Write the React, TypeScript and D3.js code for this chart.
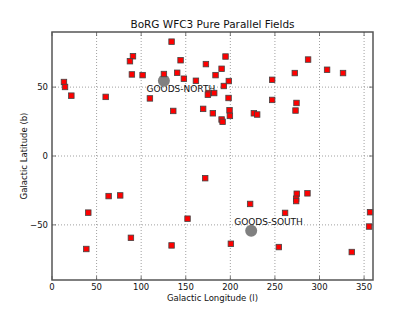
import React, { useEffect, useRef } from "react";
import * as d3 from "d3";

// BoRG fields: galactic longitude (l) and latitude (b)
const fieldL = [
  134.1, 90.8, 87.4, 89.6, 101.6, 13.4, 14.6, 21.7, 60.2, 109.8, 125.5, 140.4, 136.0,
  144.2, 147.9, 172.6, 194.6, 190.2, 183.4, 161.4, 198.3, 192.7, 175.9, 181.9, 174.8,
  198.0, 169.5, 180.4, 199.1, 199.5, 190.2, 191.3, 226.4, 230.1, 246.9, 246.9, 272.3,
  274.2, 273.1, 287.2, 308.5, 326.4,
  171.8, 63.5, 76.5, 40.7, 152.0, 88.5, 38.5, 134.1, 222.2, 274.5, 273.8, 273.8, 286.5,
  261.4, 356.7, 355.6, 200.6, 254.4, 336.2,
];
const fieldB = [
  83.0, 72.4, 68.8, 59.2, 58.7, 53.7, 50.1, 43.8, 42.9, 41.8, 59.5, 60.4, 32.7,
  69.5, 56.1, 66.7, 72.2, 63.3, 58.7, 54.6, 54.4, 50.8, 45.7, 45.7, 44.5,
  42.1, 34.2, 31.0, 33.2, 29.1, 26.5, 24.8, 31.0, 30.1, 55.3, 40.7, 60.2,
  38.5, 33.0, 70.0, 62.6, 60.2,
  -16.1, -29.1, -28.6, -41.1, -45.5, -59.4, -67.5, -64.9, -34.8, -27.4, -31.0, -32.7, -27.1,
  -41.3, -40.8, -51.2, -63.7, -66.1, -69.7,
];

const goodsNames = ["GOODS-NORTH", "GOODS-SOUTH"];
const goodsL = [125.5, 223.4];
const goodsB = [54.6, -54.3];
const goodsLabelL = [106, 204.3];
const goodsLabelB = [46.5, -50];

const xTicks = [0, 50, 100, 150, 200, 250, 300, 350];
const yTicks = [-50, 0, 50];

function App() {
  const ref = useRef<SVGSVGElement>(null);

  useEffect(() => {
    const W = 415, H = 312;
    const margin = { top: 32, right: 42, bottom: 32, left: 52 };
    const w = W - margin.left - margin.right;
    const h = H - margin.top - margin.bottom;
    const font = "DejaVu Sans, sans-serif";

    const svg = d3.select(ref.current).attr("width", W).attr("height", H);
    svg.selectAll("*").remove();

    const x = d3.scaleLinear().domain([0, 360]).range([margin.left, margin.left + w]);
    const y = d3.scaleLinear().domain([-90, 90]).range([margin.top + h, margin.top]);

    svg.append("rect").attr("width", W).attr("height", H).attr("fill", "white");

    // grid
    const grid = svg.append("g").attr("stroke", "#888").attr("stroke-width", 0.8).attr("stroke-dasharray", "1,2");
    xTicks.filter((t) => t > 0).forEach((t) => {
      grid.append("line").attr("x1", x(t)).attr("x2", x(t)).attr("y1", margin.top).attr("y2", margin.top + h);
    });
    yTicks.forEach((t) => {
      grid.append("line").attr("x1", margin.left).attr("x2", margin.left + w).attr("y1", y(t)).attr("y2", y(t));
    });

    // tick marks inside frame
    const ticks = svg.append("g").attr("stroke", "#555").attr("stroke-width", 0.8);
    xTicks.forEach((t) => {
      ticks.append("line").attr("x1", x(t)).attr("x2", x(t)).attr("y1", margin.top + h).attr("y2", margin.top + h - 4);
      ticks.append("line").attr("x1", x(t)).attr("x2", x(t)).attr("y1", margin.top).attr("y2", margin.top + 4);
    });
    yTicks.forEach((t) => {
      ticks.append("line").attr("x1", margin.left).attr("x2", margin.left + 4).attr("y1", y(t)).attr("y2", y(t));
      ticks.append("line").attr("x1", margin.left + w).attr("x2", margin.left + w - 4).attr("y1", y(t)).attr("y2", y(t));
    });

    // GOODS labels, then circles on top
    svg.append("g")
      .selectAll("text")
      .data(goodsNames)
      .join("text")
      .attr("x", (d, i) => x(goodsLabelL[i]))
      .attr("y", (d, i) => y(goodsLabelB[i]))
      .attr("font-family", font)
      .attr("font-size", 9)
      .attr("fill", "#111")
      .text((d) => d);

    svg.append("g")
      .selectAll("circle")
      .data(goodsL)
      .join("circle")
      .attr("cx", (d) => x(d))
      .attr("cy", (d, i) => y(goodsB[i]))
      .attr("r", 6)
      .attr("fill", "#808080");

    // fields
    const s = 5.5;
    svg.append("g")
      .selectAll("rect")
      .data(fieldL)
      .join("rect")
      .attr("x", (d) => x(d) - s / 2)
      .attr("y", (d, i) => y(fieldB[i]) - s / 2)
      .attr("width", s)
      .attr("height", s)
      .attr("fill", "#ff0000")
      .attr("stroke", "#444")
      .attr("stroke-width", 0.8);

    // frame
    svg.append("rect")
      .attr("x", margin.left)
      .attr("y", margin.top)
      .attr("width", w)
      .attr("height", h)
      .attr("fill", "none")
      .attr("stroke", "#555")
      .attr("stroke-width", 1.5);

    // tick labels
    svg.append("g")
      .selectAll("text")
      .data(xTicks)
      .join("text")
      .attr("x", (d) => x(d))
      .attr("y", margin.top + h + 10)
      .attr("text-anchor", "middle")
      .attr("font-family", font)
      .attr("font-size", 8.5)
      .attr("fill", "#111")
      .text((d) => d);

    svg.append("g")
      .selectAll("text")
      .data(yTicks)
      .join("text")
      .attr("x", margin.left - 4)
      .attr("y", (d) => y(d) + 3)
      .attr("text-anchor", "end")
      .attr("font-family", font)
      .attr("font-size", 8.5)
      .attr("fill", "#111")
      .text((d) => (d < 0 ? "\u2212" + Math.abs(d) : d));

    // labels
    svg.append("text")
      .attr("x", margin.left + w / 2)
      .attr("y", 301)
      .attr("text-anchor", "middle")
      .attr("font-family", font)
      .attr("font-size", 8.5)
      .attr("fill", "#111")
      .text("Galactic Longitude (l)");

    svg.append("text")
      .attr("transform", `translate(27, ${margin.top + h / 2}) rotate(-90)`)
      .attr("text-anchor", "middle")
      .attr("font-family", font)
      .attr("font-size", 8.5)
      .attr("fill", "#111")
      .text("Galactic Latitude (b)");

    svg.append("text")
      .attr("x", margin.left + w / 2)
      .attr("y", 28)
      .attr("text-anchor", "middle")
      .attr("font-family", font)
      .attr("font-size", 10.5)
      .attr("fill", "#111")
      .text("BoRG WFC3 Pure Parallel Fields");
  }, []);

  return (
    <div style={{ position: "absolute", left: 0, top: 0 }}>
      <svg ref={ref} style={{ display: "block" }}></svg>
    </div>
  );
}

export default App;
